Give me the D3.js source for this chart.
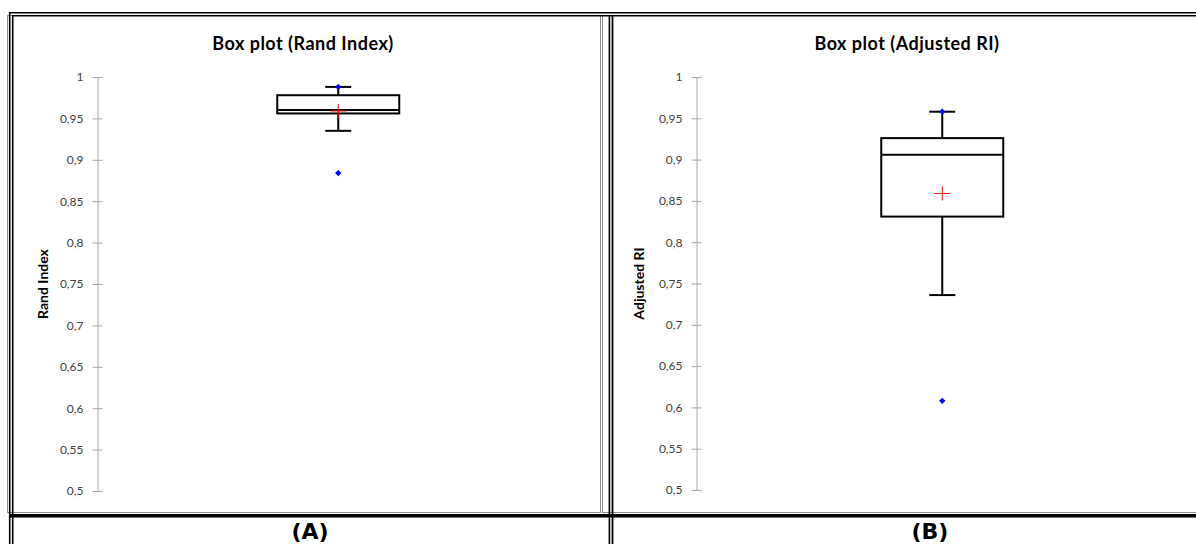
<!DOCTYPE html>
<html><head><meta charset="utf-8">
<script src="https://cdn.jsdelivr.net/npm/d3@7"></script>
<style>html,body{margin:0;padding:0;background:#fff;overflow:hidden}</style>
</head><body>
<svg id="c" width="1196" height="544"></svg>
<script>
// ---- data ----
const categories = ["Rand Index", "Adjusted RI"];
const titles = ["Box plot (Rand Index)", "Box plot (Adjusted RI)"];
const panelLabels = ["(A)", "(B)"];
const whiskerLow = [0.935, 0.736];
const q1 = [0.956, 0.831];
const median = [0.960, 0.906];
const q3 = [0.978, 0.926];
const whiskerHigh = [0.988, 0.958];
const means = [0.959, 0.859];
const minPoints = [0.884, 0.608];
const maxPoints = [0.988, 0.958];
const tickValues = [0.5, 0.55, 0.6, 0.65, 0.7, 0.75, 0.8, 0.85, 0.9, 0.95, 1];
const tickLabels = ["0,5", "0,55", "0,6", "0,65", "0,7", "0,75", "0,8", "0,85", "0,9", "0,95", "1"];

const svg = d3.select("#c");

// ---- panel geometry ----
const panels = [
  {frameX: 7.5, frameW: 593, axisX: 97.5, plotR: 579, yTop: 77, yBot: 491, titleX: 303, labX: 310, ytitleX: 48},
  {frameX: 602.5, frameW: 600, axisX: 696.5, plotR: 1188, yTop: 77, yBot: 490, titleX: 907, labX: 930, ytitleX: 644}
];

// chart gray borders
panels.forEach(p => {
  svg.append("rect").attr("x", p.frameX).attr("y", 15.5).attr("width", p.frameW).attr("height", 497)
    .attr("fill", "none").attr("stroke", "#8c8c8c").attr("stroke-width", 1);
});

// table frame
const frame = svg.append("g").attr("stroke", "#000").attr("fill", "none");
frame.append("line").attr("x1", 9).attr("x2", 1196).attr("y1", 12.7).attr("y2", 12.7).attr("stroke-width", 1.6);
frame.append("line").attr("x1", 12).attr("x2", 1196).attr("y1", 15.7).attr("y2", 15.7).attr("stroke-width", 1.6);
frame.append("line").attr("x1", 9.7).attr("x2", 9.7).attr("y1", 12).attr("y2", 544).attr("stroke-width", 1.6);
frame.append("line").attr("x1", 12.7).attr("x2", 12.7).attr("y1", 15).attr("y2", 544).attr("stroke-width", 1.6);
frame.append("line").attr("x1", 609.4).attr("x2", 609.4).attr("y1", 15).attr("y2", 544).attr("stroke-width", 1.6);
frame.append("line").attr("x1", 612.5).attr("x2", 612.5).attr("y1", 15).attr("y2", 544).attr("stroke-width", 1.8);
frame.append("line").attr("x1", 9).attr("x2", 1196).attr("y1", 515.8).attr("y2", 515.8).attr("stroke-width", 3.6);

panels.forEach((p, i) => {
  const g = svg.append("g");
  const y = d3.scaleLinear().domain([0.5, 1]).range([p.yBot, p.yTop]);
  const x = d3.scalePoint().domain([categories[i]]).range([p.axisX, p.plotR]).padding(0.5);

  // title
  g.append("text").attr("x", p.titleX).attr("y", 50).attr("text-anchor", "middle")
    .attr("font-family", "Lato, 'Open Sans', sans-serif").attr("font-weight", "bold")
    .attr("font-size", 18).attr("letter-spacing", 0.5).attr("fill", "#000").text(titles[i]);

  // axis
  const axis = d3.axisLeft(y).tickValues(tickValues)
    .tickFormat((d, k) => tickLabels[k]).tickSizeInner(5).tickSizeOuter(0).tickPadding(9);
  const ag = g.append("g").attr("transform", `translate(${p.axisX},0)`).call(axis);
  ag.select(".domain").attr("stroke", "#a6a6a6");
  ag.selectAll(".tick line").attr("x1", -5).attr("x2", 5).attr("stroke", "#a6a6a6");
  ag.selectAll(".tick text").attr("font-family", "Lato, 'Open Sans', sans-serif")
    .attr("font-size", 12).attr("fill", "#404040");

  // y-axis title
  g.append("text").attr("transform", `translate(${p.ytitleX},${(p.yTop + p.yBot) / 2}) rotate(-90)`)
    .attr("text-anchor", "middle").attr("font-family", "Lato, 'Open Sans', sans-serif")
    .attr("font-weight", "bold").attr("font-size", 14).attr("fill", "#000").text(categories[i]);

  const cx = x(categories[i]);
  const bw = 122, cw = 26;
  const bx = g.append("g").attr("stroke", "#000").attr("stroke-width", 2).attr("fill", "none");
  // whiskers
  bx.append("line").attr("x1", cx).attr("x2", cx).attr("y1", y(q3[i])).attr("y2", y(whiskerHigh[i]));
  bx.append("line").attr("x1", cx).attr("x2", cx).attr("y1", y(q1[i])).attr("y2", y(whiskerLow[i]));
  bx.append("line").attr("x1", cx - cw / 2).attr("x2", cx + cw / 2).attr("y1", y(whiskerHigh[i])).attr("y2", y(whiskerHigh[i]));
  bx.append("line").attr("x1", cx - cw / 2).attr("x2", cx + cw / 2).attr("y1", y(whiskerLow[i])).attr("y2", y(whiskerLow[i]));
  // box
  bx.append("rect").attr("x", cx - bw / 2).attr("y", y(q3[i])).attr("width", bw).attr("height", y(q1[i]) - y(q3[i]));
  bx.append("line").attr("x1", cx - bw / 2).attr("x2", cx + bw / 2).attr("y1", y(median[i])).attr("y2", y(median[i]));

  // mean cross
  const m = g.append("g").attr("stroke", "#ff0000").attr("stroke-width", 1);
  m.append("line").attr("x1", cx - 8).attr("x2", cx + 8).attr("y1", y(means[i])).attr("y2", y(means[i]));
  m.append("line").attr("x1", cx).attr("x2", cx).attr("y1", y(means[i]) - 7).attr("y2", y(means[i]) + 7);

  // min / max points (small square diamonds)
  const sym = d3.symbol().type(d3.symbolSquare).size(20);
  [minPoints[i], maxPoints[i]].forEach(v => {
    g.append("path").attr("d", sym).attr("transform", `translate(${cx},${y(v)}) rotate(45)`).attr("fill", "#0000ff");
  });

  // panel label
  svg.append("text").attr("x", p.labX).attr("y", 539).attr("text-anchor", "middle")
    .attr("font-family", "'DejaVu Sans', Verdana, sans-serif").attr("font-weight", "bold")
    .attr("font-size", 22).attr("fill", "#000").text(panelLabels[i]);
});
</script>
</body></html>
